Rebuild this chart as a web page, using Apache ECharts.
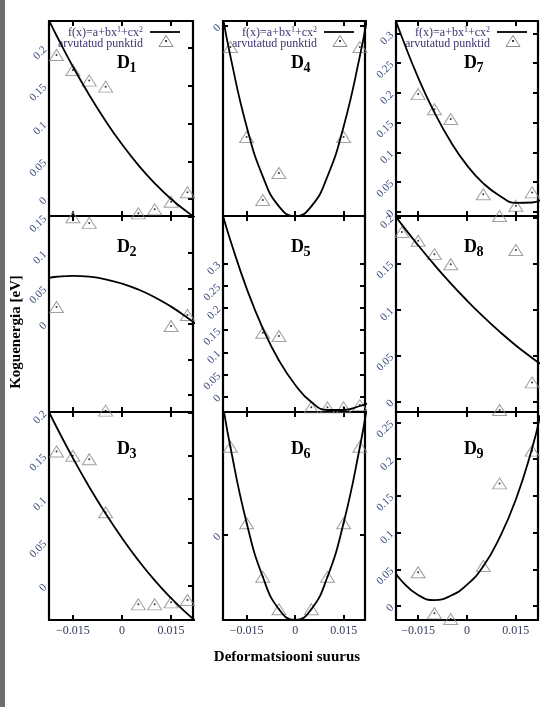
<!DOCTYPE html>
<html><head><meta charset="utf-8">
<script src="https://cdn.jsdelivr.net/npm/echarts@6/dist/echarts.min.js"></script>
<style>html,body{margin:0;padding:0;background:#fff}#c{width:543px;height:707px}</style>
</head><body><div id="c"></div>
<script>
// ---------- data ----------
const curveX = [-0.0225,-0.02,-0.015,-0.01,-0.005,0,0.005,0.01,0.015,0.02,0.0225];
const pointX = [-0.02,-0.015,-0.01,-0.005,0.005,0.01,0.015,0.02];
const xTicks = [-0.015,0,0.015];

const curve_D1 = [0.2387,0.2168,0.1756,0.1379,0.1035,0.0725,0.0449,0.0208,0.0,-0.0174,-0.0248];
const points_D1 = [0.191,0.171,0.157,0.149,-0.019,-0.0137,-0.0036,0.0089];
const curve_D2 = [0.0649,0.0664,0.0676,0.0664,0.0628,0.0568,0.0484,0.0376,0.0244,0.0088,0.0001];
const points_D2 = [0.0239,0.150,0.142,-0.1217,null,null,-0.0028,0.0126];
const curve_D3 = [0.2023,0.1833,0.1474,0.114,0.0833,0.055,0.0293,0.0061,-0.0144,-0.0325,-0.0405];
const points_D3 = [0.155,0.150,0.146,0.0848,-0.0215,-0.0215,-0.0192,-0.0165];
const curve_D4 = [0.0030,-0.0076,-0.0251,-0.0376,-0.0451,-0.0476,-0.0451,-0.0376,-0.0251,-0.0076,0.0030];
const points_D4 = [-0.00525,-0.02775,-0.0435,-0.03675,null,null,-0.02775,-0.00525];
const curve_D5 = [0.4125,0.352,0.244,0.154,0.0816,0.027,-0.012,-0.030,-0.030,-0.021,-0.015];
const points_D5 = [null,null,0.144,0.1367,-0.024,-0.024,-0.024,-0.019];
const curve_D6 = [0.0535,0.0351,0.0049,-0.0167,-0.0297,-0.034,-0.0297,-0.0167,0.0049,0.0351,0.0535];
const points_D6 = [0.0353,0.0047,-0.0167,-0.0297,-0.0297,-0.0167,0.0047,0.0353];
const curve_D7 = [0.3317,0.294,0.2258,0.167,0.1178,0.078,0.0478,0.027,0.015,0.0155,0.019];
const points_D7 = [null,0.198,0.1724,0.156,0.0293,-0.0072,0.0101,0.0325];
const curve_D8 = [0.2038,0.192,0.1696,0.1484,0.1284,0.1097,0.0922,0.076,0.061,0.0474,0.041];
const points_D8 = [0.184,0.1746,0.16,0.149,null,-0.009,0.1645,0.0209];
const curve_D9 = [0.049,0.034,0.015,0.008,0.014,0.029,0.054,0.093,0.145,0.215,0.26];
const points_D9 = [null,0.0459,-0.01,-0.0177,0.0545,0.167,null,0.2116];

const yTicks_D1 = [0,0.05,0.1,0.15,0.2];
const yTicks_D2 = [-0.1,-0.05,0,0.05,0.1,0.15];
const yLabels_D2 = [0,0.05,0.1,0.15];
const yTicks_D3 = [0,0.05,0.1,0.15,0.2];
const yTicks_D4 = [0];
const yTicks_D5 = [0,0.05,0.1,0.15,0.2,0.25,0.3];
const yTicks_D6 = [0];
const yTicks_D7 = [0,0.05,0.1,0.15,0.2,0.25,0.3];
const yTicks_D8 = [0,0.05,0.1,0.15,0.2];
const yTicks_D9 = [0,0.05,0.1,0.15,0.2,0.25];

const legendLine = 'f(x)=a+bx{sup|1}+cx{sup|2}';
const legendPts = 'arvutatud punktid';
const yTitle = 'Koguenergia [eV]';
const xTitle = 'Deformatsiooni suurus';

// ---------- layout ----------
const colLeft = [49,223,396], colRight = [193,365,538];
const rowTop = [21,216,412], rowBottom = [216,412,620];
const xRange = [[-0.0223,0.0217],[-0.0223,0.0216],[-0.0218,0.0218]];

const panels = [
 {n:'1', curve:curve_D1, pts:points_D1, ymin:-0.0225, ymax:0.236, ticks:yTicks_D1, labels:yTicks_D1},
 {n:'2', curve:curve_D2, pts:points_D2, ymin:-0.1236, ymax:0.1517, ticks:yTicks_D2, labels:yLabels_D2},
 {n:'3', curve:curve_D3, pts:points_D3, ymin:-0.0396, ymax:0.2006, ticks:yTicks_D3, labels:yTicks_D3},
 {n:'4', curve:curve_D4, pts:points_D4, ymin:-0.0475, ymax:0.00125, ticks:yTicks_D4, labels:yTicks_D4},
 {n:'5', curve:curve_D5, pts:points_D5, ymin:-0.0345, ymax:0.407, ticks:yTicks_D5, labels:yTicks_D5},
 {n:'6', curve:curve_D6, pts:points_D6, ymin:-0.034, ymax:0.0492, ticks:yTicks_D6, labels:yTicks_D6},
 {n:'7', curve:curve_D7, pts:points_D7, ymin:-0.0072, ymax:0.321, ticks:yTicks_D7, labels:yTicks_D7},
 {n:'8', curve:curve_D8, pts:points_D8, ymin:-0.0112, ymax:0.2014, ticks:yTicks_D8, labels:yTicks_D8},
 {n:'9', curve:curve_D9, pts:points_D9, ymin:-0.0191, ymax:0.2643, ticks:yTicks_D9, labels:yTicks_D9}
];

const SERIF = 'Liberation Serif';
const option = {animation:false, backgroundColor:'#fff', grid:[], xAxis:[], yAxis:[], series:[], graphic:[]};
const lineAx = {show:true, onZero:false, lineStyle:{color:'#000', width:2.2}};
const fmtX = v => (v < 0 ? '\u2212' : '') + String(Math.abs(+v.toFixed(4)));
const fmtY = v => String(+(+v).toFixed(4));

panels.forEach((p, i) => {
  const col = Math.floor(i/3), row = i % 3;
  option.grid.push({left:colLeft[col], top:rowTop[row], width:colRight[col]-colLeft[col],
    height:rowBottom[row]-rowTop[row], containLabel:false, outerBoundsMode:'none'});
  const tickX = {show:true, inside:true, length:5, lineStyle:{color:'#000', width:2}, customValues:xTicks};
  option.xAxis.push({type:'value', gridIndex:i, position:'bottom', min:xRange[col][0], max:xRange[col][1],
    axisLine:lineAx, axisTick:tickX, splitLine:{show:false},
    axisLabel:{show: row===2, customValues:xTicks, formatter:fmtX, fontFamily:SERIF, fontSize:12, color:'#36405e', margin:5}});
  option.xAxis.push({type:'value', gridIndex:i, position:'top', min:xRange[col][0], max:xRange[col][1],
    axisLine:lineAx, axisTick:tickX, splitLine:{show:false}, axisLabel:{show:false}});
  option.yAxis.push({type:'value', gridIndex:i, position:'left', min:p.ymin, max:p.ymax,
    axisLine:lineAx, splitLine:{show:false},
    axisTick:{show: col>0, inside:true, length:5, lineStyle:{color:'#000', width:2}, customValues:p.ticks},
    axisLabel:{show:true, customValues:p.labels, formatter:fmtY, rotate:45, fontFamily:SERIF, fontSize:11, color:'#3d4e80', margin:4}});
  option.yAxis.push({type:'value', gridIndex:i, position:'right', min:p.ymin, max:p.ymax,
    axisLine:lineAx, splitLine:{show:false},
    axisTick:{show:true, inside:true, length:5, lineStyle:{color:'#000', width:2}, customValues:p.ticks},
    axisLabel:{show:false}});
  const ptsData = pointX.map((x,k) => p.pts[k] == null ? null : [x, p.pts[k]]).filter(d => d);
  option.series.push({type:'scatter', xAxisIndex:2*i, yAxisIndex:2*i, data:ptsData, clip:false,
    symbol:'triangle', symbolSize:[14,11], silent:true,
    itemStyle:{color:'rgba(255,255,255,0)', borderColor:'#8a8a8a', borderWidth:1}});
  option.series.push({type:'scatter', xAxisIndex:2*i, yAxisIndex:2*i, data:ptsData, clip:false,
    symbol:'circle', symbolSize:2, silent:true, itemStyle:{color:'#000'}});
  option.series.push({type:'line', xAxisIndex:2*i, yAxisIndex:2*i, clip:true, smooth:true,
    showSymbol:false, silent:true, data:curveX.map((x,k)=>[x, p.curve[k]]),
    lineStyle:{color:'#000', width:1.8}});
  // panel label
  const cx = colLeft[col] + 68, cy = [63.5, 247, 449.5][row];
  option.graphic.push({type:'text', x:cx, y:cy, style:{text:'D', font:'bold 18px "Liberation Serif"', fill:'#000', textAlign:'left', textVerticalAlign:'middle'}});
  option.graphic.push({type:'text', x:cx+12.5, y:cy+5, style:{text:p.n, font:'bold 14px "Liberation Serif"', fill:'#000', textAlign:'left', textVerticalAlign:'middle'}});
  // legend in top row
  if (row === 0) {
    const L = colLeft[col];
    option.graphic.push({type:'text', x:L+94, y:33, style:{text:legendLine, textAlign:'right', textVerticalAlign:'middle',
      fontFamily:SERIF, fontSize:12, fill:'#3a3470',
      rich:{sup:{fontFamily:SERIF, fontSize:8, fill:'#3a3470', verticalAlign:'top', lineHeight:14}}}});
    option.graphic.push({type:'text', x:L+94, y:43.5, style:{text:legendPts, textAlign:'right', textVerticalAlign:'middle',
      fontFamily:SERIF, fontSize:12, fill:'#3a3470'}});
    option.graphic.push({type:'line', shape:{x1:L+101, y1:32, x2:L+131, y2:32}, style:{stroke:'#000', lineWidth:1.8}});
    option.graphic.push({type:'polygon', shape:{points:[[L+110,46.5],[L+124,46.5],[L+117,35.5]]}, style:{fill:'none', stroke:'#8a8a8a', lineWidth:1}});
    option.graphic.push({type:'circle', shape:{cx:L+117, cy:41, r:1}, style:{fill:'#000'}});
  }
});

option.graphic.push({type:'rect', shape:{x:0, y:0, width:5, height:707}, style:{fill:'#6e6e6e'}});
option.graphic.push({type:'text', x:16, y:332, rotation:Math.PI/2, style:{text:yTitle, font:'bold 15px "Liberation Serif"', fill:'#000', textAlign:'center', textVerticalAlign:'middle'}});
option.graphic.push({type:'text', x:287, y:657, style:{text:xTitle, font:'bold 15px "Liberation Serif"', fill:'#000', textAlign:'center', textVerticalAlign:'middle'}});

const chart = echarts.init(document.getElementById('c'), null, {renderer:'canvas'});
chart.setOption(option);
</script></body></html>
